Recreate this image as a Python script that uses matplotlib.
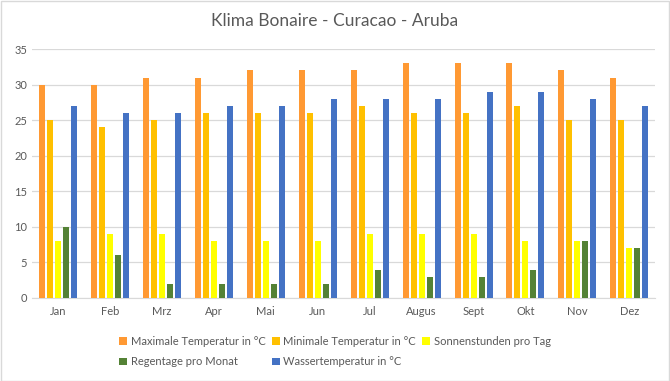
import matplotlib.pyplot as plt
import numpy as np

months = ["Jan", "Feb", "Mrz", "Apr", "Mai", "Jun", "Jul", "Augus", "Sept", "Okt", "Nov", "Dez"]
max_temp = [30, 30, 31, 31, 32, 32, 32, 33, 33, 33, 32, 31]
min_temp = [25, 24, 25, 26, 26, 26, 27, 26, 26, 27, 25, 25]
sun_hours = [8, 9, 9, 8, 8, 8, 9, 9, 9, 8, 8, 7]
rain_days = [10, 6, 2, 2, 2, 2, 4, 3, 3, 4, 8, 7]
water_temp = [27, 26, 26, 27, 27, 28, 28, 28, 29, 29, 28, 27]

series = [
    ("Maximale Temperatur in °C", max_temp, "#FF9933"),
    ("Minimale Temperatur in °C", min_temp, "#FFC000"),
    ("Sonnenstunden pro Tag", sun_hours, "#FFFF00"),
    ("Regentage pro Monat", rain_days, "#548235"),
    ("Wassertemperatur in °C", water_temp, "#4472C4"),
]

plt.rcParams["font.family"] = ["Lato", "DejaVu Sans"]
text_col = "#595959"

fig = plt.figure(figsize=(6.7, 3.81), dpi=100)
ax = fig.add_axes([0.048, 0.218, 0.93, 0.653])

x = np.arange(len(months))
width = 0.116
step = 0.154
handles = []
for i, (label, vals, color) in enumerate(series):
    b = ax.bar(x + (i - 2) * step, vals, width=width, color=color, label=label, zorder=3)
    handles.append(b)

ax.set_xlim(-0.5, len(months) - 0.5)
ax.set_ylim(0, 35)
ax.set_yticks(range(0, 36, 5))
ax.set_xticks(x)
ax.set_xticklabels(months)
ax.yaxis.grid(True, color="#D9D9D9", lw=0.9, zorder=0)
for side in ["top", "right", "left"]:
    ax.spines[side].set_visible(False)
ax.spines["bottom"].set_color("#D9D9D9")
ax.tick_params(axis="both", length=0, colors=text_col, labelsize=8)
ax.tick_params(axis="x", pad=6)

fig.text(0.5, 0.945, "Klima Bonaire - Curacao - Aruba", ha="center", va="center",
         fontsize=12.5, color=text_col)

# legend filled column-wise, so reorder to get Excel's row-wise layout
order = [0, 3, 1, 4, 2]
fig.legend([handles[k] for k in order], [series[k][0] for k in order],
           loc="center", bbox_to_anchor=(0.5, 0.077), ncol=3, frameon=False,
           fontsize=8, handlelength=0.7, handleheight=0.7, handletextpad=0.3,
           columnspacing=0.6, labelspacing=0.85, labelcolor=text_col)

fig.patches.append(plt.Rectangle((0.001, 0.001), 0.997, 0.997, transform=fig.transFigure,
                                 fill=False, edgecolor="#D9D9D9", lw=1))
fig.savefig("out.png", dpi=100)
